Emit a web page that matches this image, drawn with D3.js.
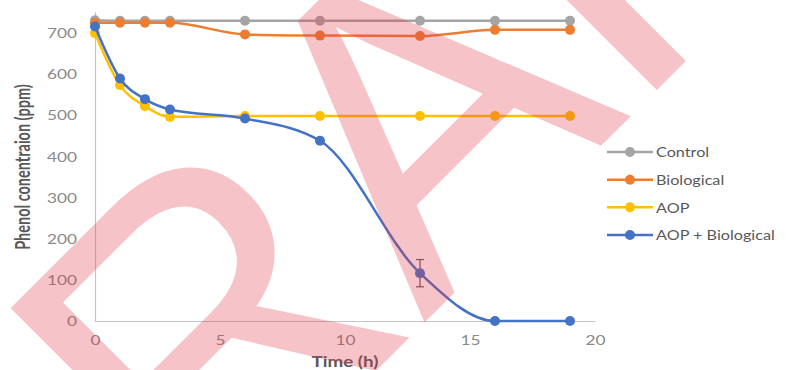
<!DOCTYPE html>
<html><head><meta charset="utf-8">
<script src="https://cdn.jsdelivr.net/npm/d3@7"></script>
<style>body{margin:0;background:#fff} svg{display:block}</style>
</head><body><svg id="c" width="788" height="370"></svg>
<script>
const timeValues = [0, 1, 2, 3, 6, 9, 13, 16, 19];
const controlValues = [729, 728, 728, 728, 728, 728, 728, 728, 728];
const biologicalValues = [723, 723, 723, 723, 695, 692, 691, 706, 706];
const aopValues = [698, 572, 521, 495, 497, 497, 497, 497, 497];
const aopBioValues = [714, 588, 538, 513, 491, 437, 116, 0, 0];
const aopBioErrors = [0, 0, 0, 0, 0, 4, 33, 0, 0];
const seriesNames = ["Control", "Biological", "AOP", "AOP + Biological"];
const seriesColors = ["#A5A5A5", "#ED7D31", "#FFC000", "#4472C4"];
const xTickValues = [0, 5, 10, 15, 20];
const yTickValues = [0, 100, 200, 300, 400, 500, 600, 700];
const xTitle = "Time (h)";
const yTitle = "Phenol conentraion (ppm)";
const watermarkText = "DRAFT";

const SX = 1.38; // horizontal stretch of the original image's text
const FONT = "Lato, 'Open Sans', sans-serif";
const svg = d3.select("#c");
const x = d3.scaleLinear().domain([0, 20]).range([95, 595]);
const y = d3.scaleLinear().domain([0, 750]).range([321, 11.7]);

// axes
const gx = svg.append("g").attr("transform", `translate(0,${y(0)})`)
  .call(d3.axisBottom(x).tickValues(xTickValues).tickSize(0).tickSizeOuter(0));
const gy = svg.append("g").attr("transform", `translate(${x(0)},0)`)
  .call(d3.axisLeft(y).tickValues(yTickValues).tickSize(0).tickSizeOuter(0));
[gx, gy].forEach(g => {
  g.select(".domain").attr("stroke", "#c4c4c4").attr("stroke-width", 1.2);
  g.selectAll("text").attr("font-family", FONT).attr("font-size", 12.5)
    .attr("fill", "#8a8a8a").attr("dy", null).attr("dominant-baseline", "central");
});
gx.selectAll(".tick text").attr("x", 0).attr("y", 0)
  .attr("transform", `translate(0,19) scale(${SX},1)`).attr("text-anchor", "middle");
gy.selectAll(".tick text").attr("x", 0).attr("y", 0)
  .attr("transform", `translate(-18,0) scale(${SX},1)`).attr("text-anchor", "end");

// titles
svg.append("text").text(xTitle)
  .attr("transform", `translate(${(x(0)+x(20))/2},361) scale(1.3,1)`)
  .attr("text-anchor", "middle").attr("dominant-baseline", "central")
  .attr("font-family", FONT).attr("font-weight", "bold").attr("font-size", 14.5).attr("fill", "#595959");
svg.append("text").text(yTitle)
  .attr("transform", `translate(23,167) scale(${SX},1) rotate(-90)`)
  .attr("text-anchor", "middle").attr("dominant-baseline", "central")
  .attr("font-family", FONT).attr("font-weight", "bold").attr("font-size", 14.5).attr("fill", "#595959");

// series
const allValues = [controlValues, biologicalValues, aopValues, aopBioValues];
const line = d3.line().x(d => x(d.t)).y(d => y(d.v)).curve(d3.curveMonotoneX);
allValues.forEach((vals, i) => {
  const pts = timeValues.map((t, j) => ({t, v: vals[j]}));
  svg.append("path").datum(pts).attr("d", line).attr("fill", "none")
    .attr("stroke", seriesColors[i]).attr("stroke-width", 2.5);
  if (i === 3) {
    pts.forEach((p, j) => {
      const e = aopBioErrors[j];
      if (!e) return;
      const g = svg.append("g").attr("stroke", "#6d6260").attr("stroke-width", 1.3);
      g.append("line").attr("x1", x(p.t)).attr("x2", x(p.t)).attr("y1", y(p.v - e)).attr("y2", y(p.v + e));
      g.append("line").attr("x1", x(p.t) - 4).attr("x2", x(p.t) + 4).attr("y1", y(p.v - e)).attr("y2", y(p.v - e));
      g.append("line").attr("x1", x(p.t) - 4).attr("x2", x(p.t) + 4).attr("y1", y(p.v + e)).attr("y2", y(p.v + e));
    });
  }
  svg.append("g").selectAll("circle").data(pts).join("circle")
    .attr("cx", d => x(d.t)).attr("cy", d => y(d.v)).attr("r", 5)
    .attr("fill", seriesColors[i]);
});

// legend
const legendY = d3.scalePoint().domain(seriesNames).range([152, 235]);
const lg = svg.append("g");
seriesNames.forEach((name, i) => {
  const yy = legendY(name);
  lg.append("line").attr("x1", 607).attr("x2", 653).attr("y1", yy).attr("y2", yy)
    .attr("stroke", seriesColors[i]).attr("stroke-width", 2.5);
  lg.append("circle").attr("cx", 630).attr("cy", yy).attr("r", 5).attr("fill", seriesColors[i]);
  lg.append("text").text(name)
    .attr("transform", `translate(656,${yy}) scale(1.2,1)`)
    .attr("dominant-baseline", "central")
    .attr("font-family", FONT).attr("font-size", 13.5).attr("fill", "#595959");
});

// watermark overlay
svg.append("text").text(watermarkText)
  .attr("transform", "translate(493,254) rotate(-45)")
  .attr("text-anchor", "middle")
  .attr("font-family", "'Liberation Sans', Arial, sans-serif")
  .attr("font-size", 440).attr("fill", "#e0374a").attr("fill-opacity", 0.3)
  .style("pointer-events", "none");
</script></body></html>
